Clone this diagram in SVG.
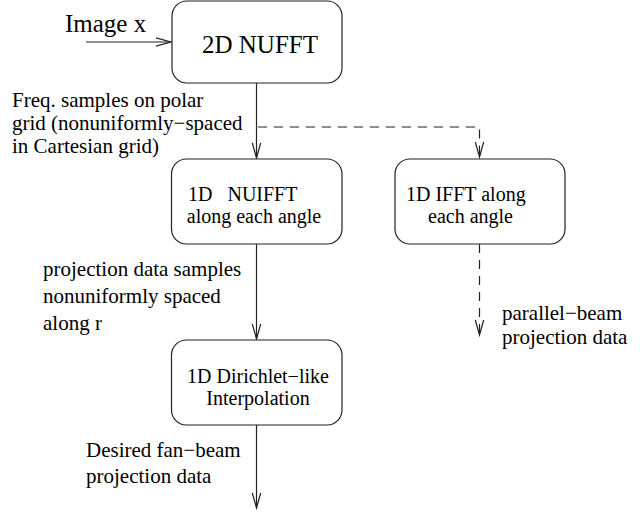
<svg xmlns="http://www.w3.org/2000/svg" width="640" height="512" viewBox="0 0 640 512">
<style>
.box{fill:#fff;stroke:#222;stroke-width:1.2}
.ln{fill:none;stroke:#222;stroke-width:1.2}
.dash{stroke-dasharray:9 7}
text{font-family:"Liberation Serif","Times New Roman",serif;font-size:21px;fill:#000}
.in{font-size:20px}
.big{font-size:25px}
.c{text-anchor:middle}
</style>
<defs>
<marker id="ah" markerUnits="userSpaceOnUse" markerWidth="20" markerHeight="12" viewBox="-16 -6 18 12" refX="0" refY="0" orient="auto">
<path d="M-15,-4.2 L0,0 L-15,4.2" fill="none" stroke="#222" stroke-width="1.2"/>
</marker>
</defs>
<rect width="640" height="512" fill="#fff"/>
<g id="connectors">
<line class="ln" x1="86" y1="42" x2="171" y2="42" marker-end="url(#ah)"/>
<line class="ln" x1="256.5" y1="83" x2="256.5" y2="158" marker-end="url(#ah)"/>
<path class="ln dash" d="M258,127 H479.5 V157" marker-end="url(#ah)"/>
<line class="ln" x1="256.5" y1="244" x2="256.5" y2="339" marker-end="url(#ah)"/>
<line class="ln dash" x1="479.5" y1="244" x2="479.5" y2="335" marker-end="url(#ah)"/>
<line class="ln" x1="256.5" y1="425" x2="256.5" y2="508" marker-end="url(#ah)"/>
</g>
<g id="input-label"><text class="big" x="65" y="32">Image x</text></g>
<g id="nufft2d">
<rect class="box" x="172" y="1" width="170" height="82" rx="15"/>
<text class="big" x="202" y="53">2D NUFFT</text>
</g>
<g id="freq-label">
<text x="12" y="107">Freq. samples on polar</text>
<text x="12" y="130">grid (nonuniformly−spaced</text>
<text x="12" y="153">in Cartesian grid)</text>
</g>
<g id="nuifft1d">
<rect class="box" x="171.5" y="159" width="170.5" height="85" rx="15"/>
<text class="in" x="188" y="200.5" style="white-space:pre">1D   NUIFFT</text>
<text class="in c" x="254" y="223">along each angle</text>
</g>
<g id="ifft1d">
<rect class="box" x="395" y="159" width="170" height="85" rx="15"/>
<text class="in" x="406" y="200.5">1D IFFT along</text>
<text class="in" x="428" y="223">each angle</text>
</g>
<g id="proj-label">
<text x="43" y="276">projection data samples</text>
<text x="43" y="303">nonuniformly spaced</text>
<text x="43" y="330">along r</text>
</g>
<g id="parallel-label">
<text x="502" y="320">parallel−beam</text>
<text x="502" y="344">projection data</text>
</g>
<g id="dirichlet">
<rect class="box" x="171.5" y="340" width="170.5" height="85" rx="15"/>
<text class="in c" x="258" y="382.5">1D Dirichlet−like</text>
<text class="in c" x="258" y="405">Interpolation</text>
</g>
<g id="fan-label">
<text x="86" y="457">Desired fan−beam</text>
<text x="86" y="483">projection data</text>
</g>
</svg>
